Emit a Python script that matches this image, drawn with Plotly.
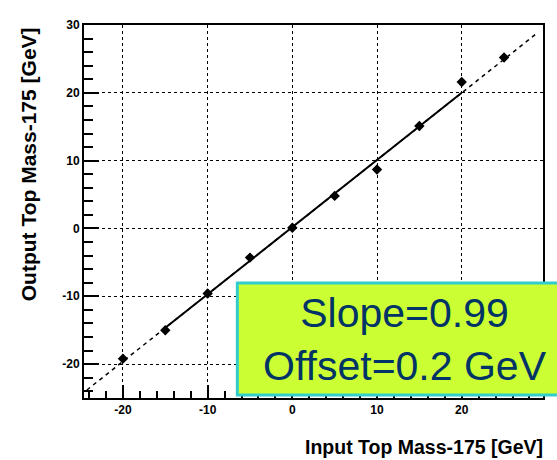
import plotly.graph_objects as go

# ---- data ----
input_mass = [-20, -15, -10, -5, 0, 5, 10, 15, 20, 25]
output_mass = [-19.2, -15.0, -9.6, -4.3, 0.1, 4.8, 8.7, 15.1, 21.6, 25.2]
output_err = [0.6, 0.6, 0.6, 0.6, 0.6, 0.6, 0.6, 0.6, 0.6, 0.6]

fit_x = [-15, 20]
fit_y = [-14.65, 20.0]
ext_x = [-25, 29]
ext_y = [-24.55, 28.9]

x_ticks = [-20, -10, 0, 10, 20]
x_tick_text = ["-20", "-10", "0", "10", "20"]
y_ticks = [-20, -10, 0, 10, 20, 30]
y_tick_text = ["-20", "-10", "0", "10", "20", "30"]

fit_text = ["Slope=0.99", "Offset=0.2 GeV"]
x_title = "Input Top Mass-175 [GeV]"
y_title = "Output Top Mass-175 [GeV]"

W, H = 557, 460
ML, MR, MT, MB = 84, 12, 25, 62
PW, PH = W - ML - MR, H - MT - MB

def px_x(p):
    return (p - ML) / PW

def px_y(p):
    return (H - MB - p) / PH

fig = go.Figure()

fig.add_trace(go.Scatter(
    x=ext_x, y=ext_y, mode="lines",
    line=dict(color="black", width=1.5, dash="4px,4px"),
    showlegend=False, hoverinfo="skip"))

fig.add_trace(go.Scatter(
    x=fit_x, y=fit_y, mode="lines",
    line=dict(color="black", width=2),
    showlegend=False, hoverinfo="skip"))

fig.add_trace(go.Scatter(
    x=input_mass, y=output_mass, mode="markers",
    marker=dict(symbol="diamond", size=8, color="black"),
    error_y=dict(type="data", array=output_err, color="black",
                 thickness=2, width=0),
    showlegend=False))

tick_font = dict(family="Liberation Sans", size=12, color="black", weight="bold")

fig.update_xaxes(
    range=[-24.6, 29.6], tickmode="array", tickvals=x_ticks, ticktext=x_tick_text,
    ticks="inside", ticklen=13, tickwidth=1.5, tickcolor="black",
    minor=dict(dtick=2, tick0=0, ticks="inside", ticklen=7,
               tickwidth=1.5, tickcolor="black", showgrid=False),
    showgrid=True, gridcolor="black", gridwidth=1.2, griddash="dot",
    zeroline=False, showline=True, linecolor="black", linewidth=2,
    mirror=True, tickfont=tick_font)

fig.update_yaxes(
    range=[-25, 30], tickmode="array", tickvals=y_ticks, ticktext=y_tick_text,
    ticks="inside", ticklen=15, tickwidth=1.5, tickcolor="black",
    minor=dict(dtick=2, tick0=0, ticks="inside", ticklen=9,
               tickwidth=1.5, tickcolor="black", showgrid=False),
    showgrid=True, gridcolor="black", gridwidth=1.2, griddash="dot",
    zeroline=False, showline=True, linecolor="black", linewidth=2,
    mirror=True, tickfont=tick_font)

fig.add_annotation(
    text=y_title, xref="paper", yref="paper",
    x=px_x(28), y=px_y(164), xanchor="center", yanchor="middle",
    textangle=-90, showarrow=False,
    font=dict(family="Liberation Sans", size=21, color="black", weight="bold"))

fig.add_annotation(
    text=x_title, xref="paper", yref="paper",
    x=px_x(547), y=px_y(447), xanchor="right", yanchor="middle",
    showarrow=False,
    font=dict(family="Liberation Sans", size=19.5, color="black", weight="bold"))

# fit-result box (extends past the right edge, as in the reference)
fig.add_shape(
    type="rect", xref="paper", yref="paper",
    x0=px_x(238), x1=px_x(640), y0=px_y(395), y1=px_y(283),
    fillcolor="#CCFF33", line=dict(color="#33CCCC", width=3), layer="above")

fig.add_annotation(
    text="<br>".join(fit_text), xref="paper", yref="paper",
    x=px_x(406), y=px_y(339), xanchor="center", yanchor="middle",
    showarrow=False, align="center",
    font=dict(family="Liberation Sans", size=41, color="#003366"))

fig.update_layout(
    width=W, height=H,
    margin=dict(l=ML, r=MR, t=MT, b=MB),
    paper_bgcolor="white", plot_bgcolor="white",
    showlegend=False)

fig.write_html("out.html")
